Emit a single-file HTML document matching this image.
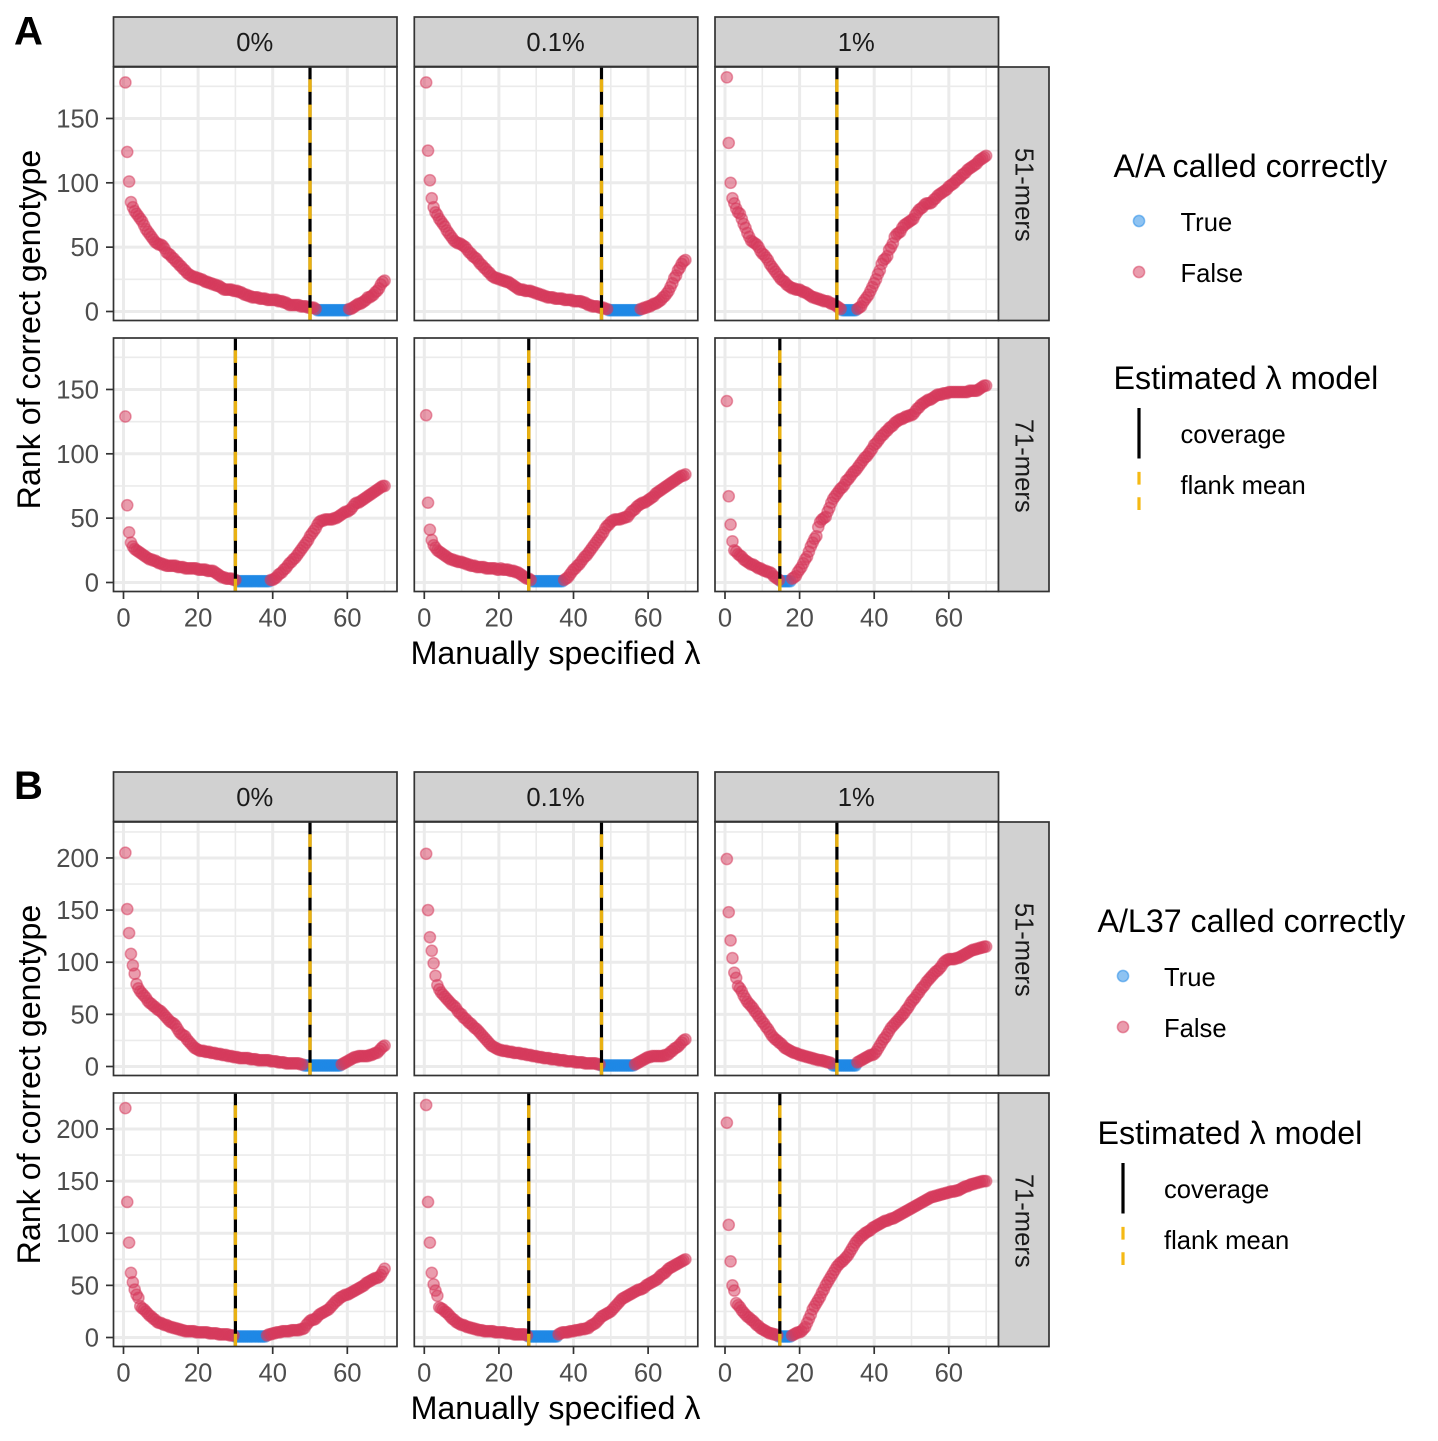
<!DOCTYPE html>
<html lang="en">
<head>
<meta charset="utf-8">
<title>Rank of correct genotype vs manually specified lambda</title>
<style>
html,body{margin:0;padding:0;background:#fff;}
svg{display:block;font-family:"Liberation Sans",sans-serif;}
</style>
</head>
<body>
<svg id="figure" xmlns="http://www.w3.org/2000/svg" width="1438" height="1441" viewBox="0 0 1438 1441">
<rect x="0" y="0" width="1438" height="1441" fill="#ffffff"/>
<g id="panels"></g>

<text x="14" y="44.5" font-size="40" font-weight="bold" fill="#000">A</text>
<text x="14" y="799" font-size="40" font-weight="bold" fill="#000">B</text>

<text transform="translate(40,329.5) rotate(-90)" text-anchor="middle" font-size="32.2" fill="#000">Rank of correct genotype</text>
<text transform="translate(40,1084.5) rotate(-90)" text-anchor="middle" font-size="32.2" fill="#000">Rank of correct genotype</text>
<text x="555.5" y="664" text-anchor="middle" font-size="32.2" fill="#000">Manually specified λ</text>
<text x="555.5" y="1419" text-anchor="middle" font-size="32.2" fill="#000">Manually specified λ</text>

<g>
  <text x="1113.5" y="177" font-size="32.2" fill="#000">A/A called correctly</text>
  <circle cx="1139" cy="221" r="5.6" fill="#1E88E5" fill-opacity="0.5" stroke="#1E88E5" stroke-opacity="0.5" stroke-width="1.5"/>
  <text x="1180.5" y="231" font-size="25.6" fill="#000">True</text>
  <circle cx="1139" cy="272" r="5.6" fill="#D5395B" fill-opacity="0.5" stroke="#D5395B" stroke-opacity="0.5" stroke-width="1.5"/>
  <text x="1180.5" y="282" font-size="25.6" fill="#000">False</text>
  <text x="1113.5" y="389" font-size="32.2" fill="#000">Estimated λ model</text>
  <line x1="1139" x2="1139" y1="408" y2="458.5" stroke="#000" stroke-width="3.2"/>
  <text x="1180.5" y="443" font-size="25.6" fill="#000">coverage</text>
  <line x1="1139" x2="1139" y1="510" y2="471" stroke="#F5B914" stroke-width="3.2" stroke-dasharray="12.7 12.7"/>
  <text x="1180.5" y="494" font-size="25.6" fill="#000">flank mean</text>
</g>

<g>
  <text x="1097.5" y="932" font-size="32.2" fill="#000">A/L37 called correctly</text>
  <circle cx="1123" cy="976" r="5.6" fill="#1E88E5" fill-opacity="0.5" stroke="#1E88E5" stroke-opacity="0.5" stroke-width="1.5"/>
  <text x="1164" y="986" font-size="25.6" fill="#000">True</text>
  <circle cx="1123" cy="1027" r="5.6" fill="#D5395B" fill-opacity="0.5" stroke="#D5395B" stroke-opacity="0.5" stroke-width="1.5"/>
  <text x="1164" y="1037" font-size="25.6" fill="#000">False</text>
  <text x="1097.5" y="1144" font-size="32.2" fill="#000">Estimated λ model</text>
  <line x1="1123" x2="1123" y1="1163" y2="1213.5" stroke="#000" stroke-width="3.2"/>
  <text x="1164" y="1198" font-size="25.6" fill="#000">coverage</text>
  <line x1="1123" x2="1123" y1="1265" y2="1226" stroke="#F5B914" stroke-width="3.2" stroke-dasharray="12.7 12.7"/>
  <text x="1164" y="1249" font-size="25.6" fill="#000">flank mean</text>
</g>
</svg>

<script>
var lambdas = [
0.5,1,1.5,2,2.5,3,3.5,4,4.5,5,5.5,6,6.5,7,7.5,8,8.5,9,9.5,10,
10.5,11,11.5,12,12.5,13,13.5,14,14.5,15,15.5,16,16.5,17,17.5,18,18.5,19,19.5,20,
20.5,21,21.5,22,22.5,23,23.5,24,24.5,25,25.5,26,26.5,27,27.5,28,28.5,29,29.5,30,
30.5,31,31.5,32,32.5,33,33.5,34,34.5,35,35.5,36,36.5,37,37.5,38,38.5,39,39.5,40,
40.5,41,41.5,42,42.5,43,43.5,44,44.5,45,45.5,46,46.5,47,47.5,48,48.5,49,49.5,50,
50.5,51,51.5,52,52.5,53,53.5,54,54.5,55,55.5,56,56.5,57,57.5,58,58.5,59,59.5,60,
60.5,61,61.5,62,62.5,63,63.5,64,64.5,65,65.5,66,66.5,67,67.5,68,68.5,69,69.5,70];

var rankA_0pct_51 = [
178,124,101,85,81,78,76,74,72,70,67,64,62,60,58,56,54,53,52,52,
51,49,46,45,44,42,41,39,38,36,35,33,32,30,29,28,27,27,26,26,
25,25,24,23,23,22,22,21,21,20,20,19,18,17,17,17,17,17,16,16,
16,15,15,14,13,13,12,12,11,11,11,11,10,10,10,10,9,9,9,9,
9,9,8,8,8,7,7,6,5,5,5,5,5,5,4,4,4,4,3,3,
3,3,2,1,1,1,1,1,1,1,1,1,1,1,1,1,1,1,1,1,
2,2,3,4,5,6,6,7,8,9,11,11,12,13,15,16,18,21,23,24];

var rankA_01pct_51 = [
178,125,102,88,81,77,75,72,70,68,66,63,61,59,57,55,54,53,53,52,
51,50,48,46,45,43,42,41,39,37,36,34,33,31,30,28,27,26,26,25,
25,24,24,23,23,22,21,20,19,18,17,17,17,16,16,16,16,15,15,14,
14,13,13,12,12,11,11,11,11,10,10,10,10,10,9,9,9,9,9,8,
8,8,8,8,7,7,6,5,5,4,4,4,4,3,3,3,2,2,1,1,
1,1,1,1,1,1,1,1,1,1,1,1,1,1,1,2,2,3,3,4,
4,5,6,6,7,8,9,11,12,14,16,19,22,26,28,32,34,37,39,40];

var rankA_1pct_51 = [
182,131,100,88,84,80,77,76,72,68,65,61,58,55,54,53,52,50,47,45,
44,42,40,37,35,33,31,29,27,25,24,23,21,20,19,18,18,17,17,17,
16,15,15,14,13,12,11,11,10,10,9,9,8,8,8,7,6,6,5,4,
3,2,1,1,1,1,1,1,1,1,2,3,4,7,9,11,13,16,19,22,
25,29,32,37,40,41,43,48,50,53,58,60,61,62,65,67,68,69,70,71,
72,75,77,79,80,81,83,84,84,84,85,87,88,90,91,92,93,94,95,97,
98,99,100,102,103,104,106,107,108,110,111,112,113,114,115,117,118,119,120,121];

var rankA_0pct_71 = [
129,60,39,31,28,26,25,24,23,22,21,20,19,18,18,17,17,16,15,15,
14,14,13,13,13,13,13,13,12,12,12,12,11,11,11,11,11,11,11,10,
10,10,10,10,9,9,9,9,8,7,6,5,4,4,3,3,3,3,2,2,
1,1,1,1,1,1,1,1,1,1,1,1,1,1,1,1,1,1,2,2,
3,4,6,7,8,10,11,13,15,16,18,19,21,23,25,27,29,31,33,36,
38,40,42,45,47,48,48,49,49,49,49,49,50,50,51,52,53,54,55,55,
56,57,59,61,62,62,63,64,65,66,67,68,69,70,71,72,73,74,75,75];

var rankA_01pct_71 = [
130,62,41,33,29,27,25,24,23,22,21,20,19,18,18,17,17,16,16,16,
15,15,14,14,13,13,13,12,12,12,12,12,11,11,11,11,11,11,10,10,
11,10,10,10,10,9,9,9,8,8,7,6,5,4,3,3,2,1,1,1,
1,1,1,1,1,1,1,1,1,1,1,1,1,1,2,3,4,6,8,10,
11,13,14,16,18,20,21,23,25,27,29,31,33,35,37,39,42,44,45,47,
48,49,49,49,49,50,50,51,51,53,55,56,57,59,60,61,62,62,63,64,
65,66,67,69,70,71,72,73,74,75,76,77,78,79,80,81,82,83,83,84];

var rankA_1pct_71 = [
141,67,45,32,25,24,22,21,20,18,17,16,15,14,14,13,12,11,11,10,
9,9,8,8,7,5,4,3,2,1,1,1,1,1,1,3,4,5,8,10,
12,15,18,20,24,28,31,34,36,43,47,49,50,51,55,58,62,65,67,69,
71,73,74,76,79,80,82,84,86,87,89,91,93,95,97,98,100,102,104,107,
108,110,112,114,115,117,118,120,121,122,124,125,126,127,127,128,129,129,130,130,
131,133,135,136,138,139,140,141,142,142,143,144,145,146,146,146,147,147,147,148,
148,148,148,148,148,148,148,148,148,148,149,149,149,149,149,150,151,152,153,153];

var rankB_0pct_51 = [
205,151,128,108,97,89,79,75,72,70,68,66,63,61,60,58,57,55,54,53,
51,49,47,45,43,42,41,39,36,33,31,30,29,26,24,22,20,18,17,16,
15,15,15,14,14,14,13,13,13,12,12,12,11,11,11,10,10,10,9,9,
9,8,8,8,8,8,8,7,7,7,7,6,6,6,6,6,6,6,5,5,
5,5,4,4,4,4,3,3,3,3,3,3,3,3,2,2,1,1,1,1,
1,1,1,1,1,1,1,1,1,1,1,1,1,1,1,1,2,3,4,5,
6,7,8,9,9,10,10,10,10,10,10,11,11,12,13,13,15,17,19,20];

var rankB_01pct_51 = [
204,150,124,111,99,87,78,74,71,69,67,65,63,61,59,58,56,53,51,50,
47,46,44,42,41,39,37,36,34,32,30,28,26,24,22,20,19,18,17,16,
16,15,15,15,14,14,14,13,13,13,13,12,12,12,11,11,11,10,10,10,
9,9,9,8,8,8,8,7,7,7,7,6,6,6,6,5,5,5,5,5,
4,4,4,4,4,3,3,3,3,3,3,3,2,2,1,1,1,1,1,1,
1,1,1,1,1,1,1,1,1,1,1,1,2,3,4,5,6,7,8,9,
9,10,10,10,10,10,10,10,11,11,12,14,15,17,18,19,21,23,25,26];

var rankB_1pct_51 = [
199,148,121,104,90,85,77,75,72,68,65,62,60,58,56,53,51,48,46,43,
41,38,36,33,30,28,26,25,23,22,20,18,17,16,15,14,13,13,12,11,
11,10,10,9,9,8,8,7,7,6,6,6,5,5,4,4,3,1,1,1,
1,1,1,1,1,1,1,1,1,1,4,5,6,7,8,9,10,11,11,12,
14,17,20,23,26,28,31,34,37,39,41,43,45,47,49,51,54,56,59,62,
64,66,69,71,74,76,78,81,83,85,87,89,91,92,94,96,99,101,102,103,
103,103,103,104,104,105,106,107,108,109,110,111,112,112,113,113,114,114,115,115];

var rankB_0pct_71 = [
220,130,91,62,53,46,41,38,30,28,27,25,23,21,20,18,17,15,14,14,
13,12,12,11,10,10,9,9,8,8,7,7,6,6,6,6,6,6,5,5,
5,5,5,5,5,4,4,4,4,4,3,3,3,3,3,3,2,2,2,1,
1,1,1,1,1,1,1,1,1,1,1,1,1,1,1,1,2,3,3,4,
4,5,5,5,6,6,6,6,6,7,7,7,7,7,8,8,9,12,14,16,
17,17,18,20,22,23,24,25,26,27,29,31,33,35,36,38,39,40,41,41,
42,43,44,45,46,47,48,49,50,52,53,54,55,56,57,57,58,60,63,66];

var rankB_01pct_71 = [
223,130,91,62,51,45,40,29,28,27,25,24,22,20,18,17,15,14,13,12,
12,11,10,10,9,9,8,8,7,7,7,6,6,6,6,6,6,5,5,5,
5,5,5,4,4,4,4,3,3,3,3,3,3,3,2,1,1,1,1,1,
1,1,1,1,1,1,1,1,1,1,1,3,4,5,5,5,5,6,6,6,
7,7,7,8,8,8,9,9,11,12,13,14,16,18,20,21,22,23,24,25,
27,29,31,33,35,37,38,39,40,41,42,43,44,45,46,46,47,48,50,51,
52,53,54,55,56,58,60,61,62,64,66,67,68,69,70,71,72,73,74,75];

var rankB_1pct_71 = [
206,108,73,50,45,33,31,29,26,24,22,20,19,17,16,14,12,11,9,8,
7,6,5,4,4,3,3,2,1,1,1,1,1,1,1,2,3,4,5,5,
6,8,10,14,18,22,27,30,33,36,39,43,46,50,53,56,59,62,65,68,
70,72,73,75,77,79,82,85,88,91,93,95,97,98,100,101,102,103,105,106,
107,108,109,110,111,112,112,113,114,114,115,116,117,118,119,120,121,122,123,124,
125,126,127,128,129,130,131,132,133,134,135,135,136,136,137,137,138,138,139,139,
140,140,140,141,141,142,143,144,145,145,146,147,147,148,148,149,149,150,150,150];

var estimatedLambda51 = [50, 47.5, 30];
var estimatedLambda71 = [30, 28, 14.7];
var columnLabels = ['0%', '0.1%', '1%'];
var rowLabels = ['51-mers', '71-mers'];
var xTickValues = [0, 20, 40, 60];
var xMinorValues = [10, 30, 50, 70];
var yTickValuesA = [0, 50, 100, 150];
var yMinorValuesA = [25, 75, 125, 175];
var yTickValuesB = [0, 50, 100, 150, 200];
var yMinorValuesB = [25, 75, 125, 175, 225];
var seriesA = [[rankA_0pct_51, rankA_01pct_51, rankA_1pct_51], [rankA_0pct_71, rankA_01pct_71, rankA_1pct_71]];
var seriesB = [[rankB_0pct_51, rankB_01pct_51, rankB_1pct_51], [rankB_0pct_71, rankB_01pct_71, rankB_1pct_71]];

var NS = 'http://www.w3.org/2000/svg';
var COLUMN_LEFT = [113.5, 414.3, 715];
var PANEL_W = 283.5;
var PANEL_H = 253.5;
var X_DOMAIN = [-2.68, 73.32];
var BLUE = '#1E88E5';
var RED = '#D5395B';
var YELLOW = '#E9B111';

function mk(parent, tag, attrs, text) {
  var el = document.createElementNS(NS, tag);
  for (var k in attrs) el.setAttribute(k, attrs[k]);
  if (text !== undefined) el.textContent = text;
  parent.appendChild(el);
  return el;
}
function axisX(left) {
  return function (v) { return left + (v - X_DOMAIN[0]) / (X_DOMAIN[1] - X_DOMAIN[0]) * PANEL_W; };
}
function axisY(top, domain) {
  return function (v) { return top + PANEL_H - (v - domain[0]) / (domain[1] - domain[0]) * PANEL_H; };
}

function drawPoints(g, ranks, x, y, matcher, color, name) {
  for (var i = 0; i < ranks.length; i++) {
    if (!matcher(ranks[i])) continue;
    var c = mk(g, 'circle', {cx: x(lambdas[i]), cy: y(ranks[i]), r: 5.6, fill: color, 'fill-opacity': 0.5, stroke: color, 'stroke-opacity': 0.5, 'stroke-width': 1.5});
    
    
  }
}

function drawPanel(root, series, stripTop, rowTops, domain, yTicks, yMinor, c, r) {
  var left = COLUMN_LEFT[c], top = rowTops[r];
  var x = axisX(left), y = axisY(top, domain);
  var g = mk(root, 'g', {});
  
  
  var bottom = top + PANEL_H;
  var bg = mk(g, 'rect', {x: left, y: top, width: PANEL_W, height: PANEL_H, fill: '#ffffff'});
  
  

  yMinor.forEach(function (v) {
    var l = mk(g, 'line', {x1: left, x2: left + PANEL_W, y1: y(v), y2: y(v), stroke: '#EBEBEB', 'stroke-width': 1.6});
    
    
  });
  xMinorValues.forEach(function (v) {
    var l = mk(g, 'line', {x1: x(v), x2: x(v), y1: top, y2: bottom, stroke: '#EBEBEB', 'stroke-width': 1.6});
    
    
  });
  yTicks.forEach(function (v) {
    var l = mk(g, 'line', {x1: left, x2: left + PANEL_W, y1: y(v), y2: y(v), stroke: '#EBEBEB', 'stroke-width': 3});
    
    
  });
  xTickValues.forEach(function (v) {
    var l = mk(g, 'line', {x1: x(v), x2: x(v), y1: top, y2: bottom, stroke: '#EBEBEB', 'stroke-width': 3});
    
    
  });

  var ranks = series[r][c];
  drawPoints(g, ranks, x, y, function (v) { return v === 1; }, BLUE, 'point-called-true');
  drawPoints(g, ranks, x, y, function (v) { return v !== 1; }, RED, 'point-called-false');

  var est = (r === 0 ? estimatedLambda51 : estimatedLambda71)[c];
  var lineCoverage = mk(g, 'line', {x1: x(est), x2: x(est), y1: bottom, y2: top, stroke: '#000000', 'stroke-width': 3.2});
  
  
  var lineFlank = mk(g, 'line', {x1: x(est), x2: x(est), y1: bottom, y2: top, stroke: YELLOW, 'stroke-width': 3.4, 'stroke-dasharray': '12.7 12.7'});
  
  

  var border = mk(g, 'rect', {x: left, y: top, width: PANEL_W, height: PANEL_H, fill: 'none', stroke: '#333333', 'stroke-width': 1.7});
  
  

  if (c === 0) {
    yTicks.forEach(function (v) {
      var t = mk(g, 'line', {x1: left - 7.5, x2: left, y1: y(v), y2: y(v), stroke: '#333333', 'stroke-width': 1.7});
      
      
      var lab = mk(g, 'text', {x: left - 14.5, y: y(v) + 9, 'text-anchor': 'end', 'font-size': 25.6, fill: '#4D4D4D'}, String(v));
      
      
    });
  }
  if (r === 1) {
    xTickValues.forEach(function (v) {
      var t = mk(g, 'line', {x1: x(v), x2: x(v), y1: bottom, y2: bottom + 7.5, stroke: '#333333', 'stroke-width': 1.7});
      
      
      var lab = mk(g, 'text', {x: x(v), y: bottom + 35, 'text-anchor': 'middle', 'font-size': 25.6, fill: '#4D4D4D'}, String(v));
      
      
    });
  }
  if (r === 0) {
    var strip = mk(g, 'rect', {x: left, y: stripTop, width: PANEL_W, height: 49.5, fill: '#D1D1D1', stroke: '#333333', 'stroke-width': 1.7});
    
    
    var st = mk(g, 'text', {x: left + PANEL_W / 2 - 0.5, y: stripTop + 34, 'text-anchor': 'middle', 'font-size': 25.6, fill: '#1A1A1A'}, columnLabels[c]);
    
    
  }
  if (c === 2) {
    var rs = mk(g, 'rect', {x: left + PANEL_W, y: top, width: 50.5, height: PANEL_H, fill: '#D1D1D1', stroke: '#333333', 'stroke-width': 1.7});
    
    
    var cx = left + PANEL_W + 26, cy = top + PANEL_H / 2 + 1;
    var rt = mk(g, 'text', {transform: 'translate(' + cx + ',' + cy + ') rotate(90)', y: 9, 'text-anchor': 'middle', 'font-size': 25.6, fill: '#1A1A1A'}, rowLabels[r]);
    
    
  }
}

var panelsRoot = document.getElementById('panels');
for (var rr = 0; rr < 2; rr++) {
  for (var cc = 0; cc < 3; cc++) {
    drawPanel(panelsRoot, seriesA, 17, [67, 338], [-7, 190], yTickValuesA, yMinorValuesA, cc, rr);
    drawPanel(panelsRoot, seriesB, 772, [822, 1093], [-8.63, 234.5], yTickValuesB, yMinorValuesB, cc, rr);
  }
}
</script>
</body>
</html>
